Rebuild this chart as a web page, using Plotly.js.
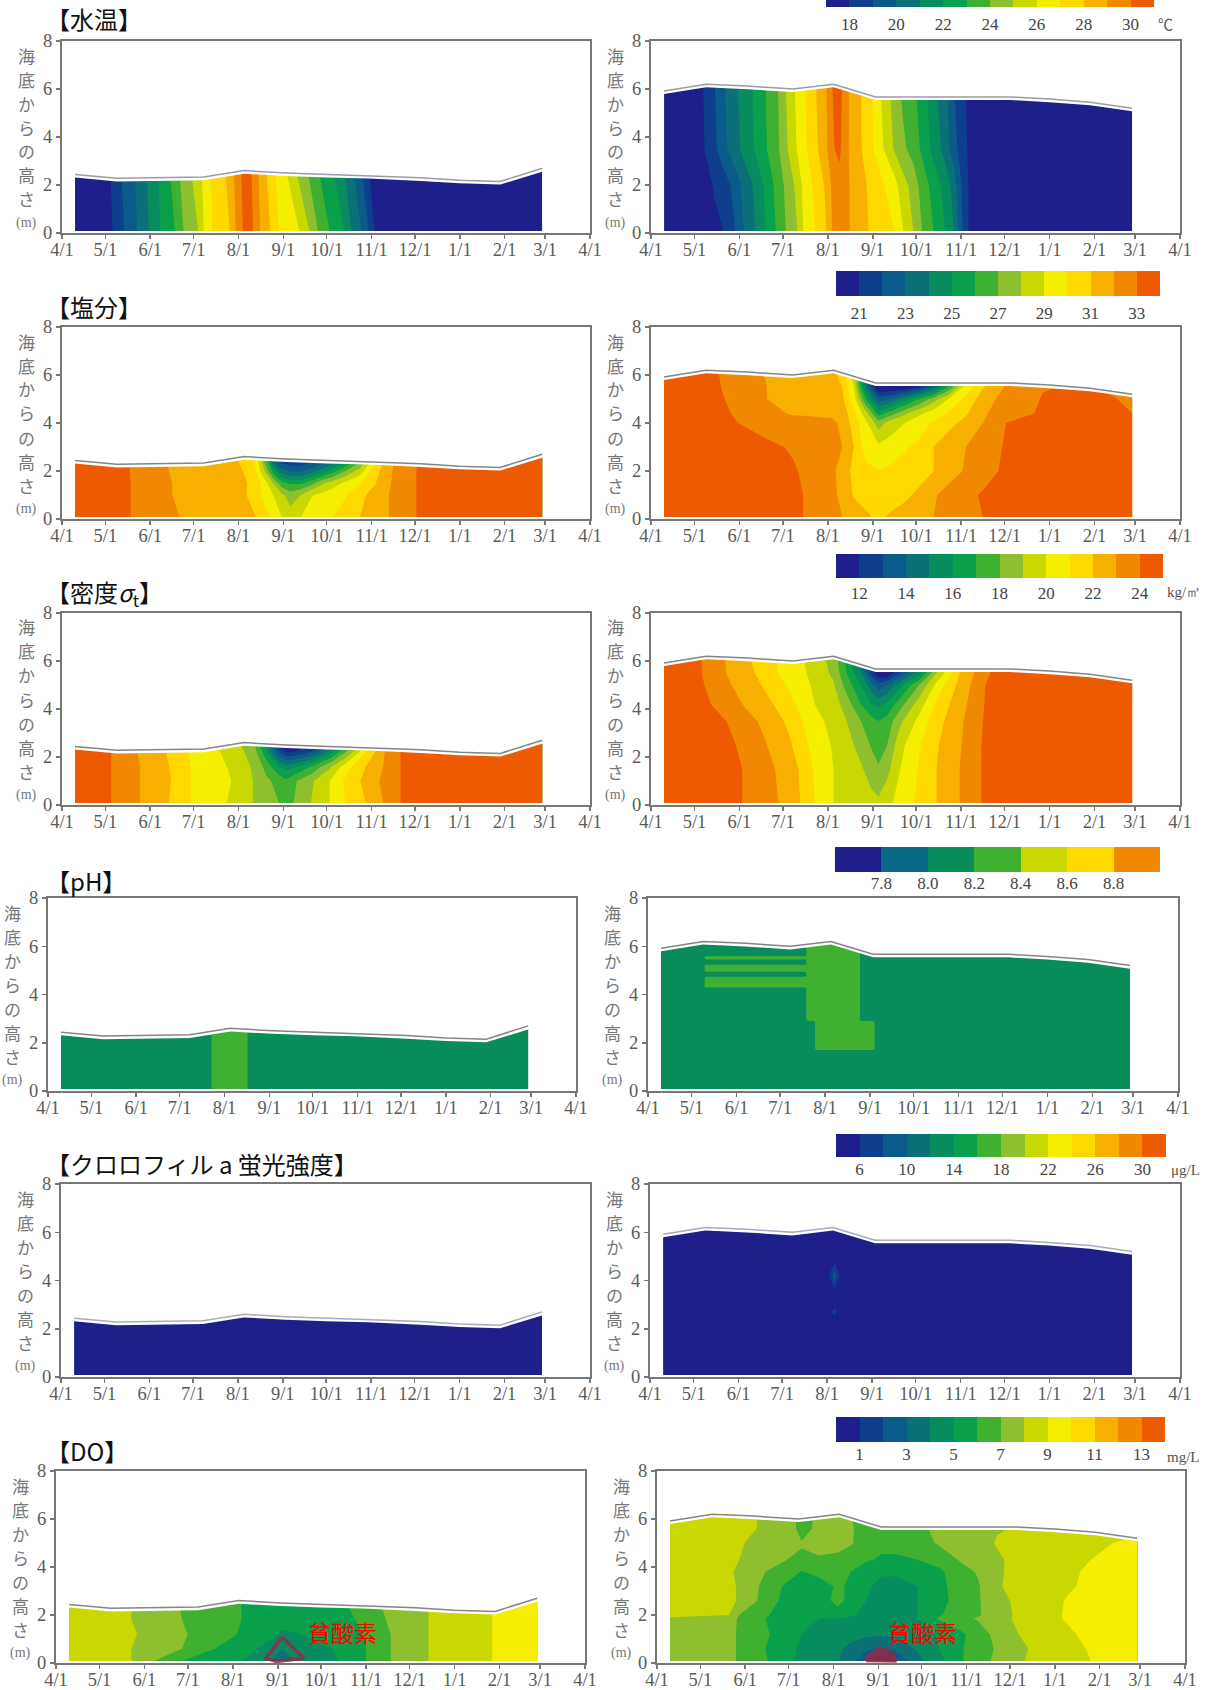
<!DOCTYPE html>
<html><head><meta charset="utf-8">
<script src="https://cdn.plot.ly/plotly-3.0.1.min.js"></script>
<style>html,body{margin:0;padding:0;background:#fff}</style>
</head><body><div id="chart" style="width:1221px;height:1690px"></div>
<script>
// ---------- shared ----------
const monthDays=[0,30,61,91,122,153,183,214,244,275,306,334,365];
const monthLabels=['4/1','5/1','6/1','7/1','8/1','9/1','10/1','11/1','12/1','1/1','2/1','3/1','4/1'];
const surfaceLeftX=[9,38,98,126,155,183,212,248,275,303,332];
const surfaceLeftY=[2.44,2.28,2.33,2.6,2.5,2.44,2.4,2.3,2.2,2.15,2.7];
const surfaceRightX=[9,38,67,98,126,155,183,212,248,275,303,332];
const surfaceRightY=[5.92,6.2,6.12,6.0,6.2,5.67,5.67,5.67,5.67,5.58,5.45,5.2];
const palette14=['#1f1f8c','#0f3f8c','#0a5a8a','#0b7078','#078c5f','#08a04a','#3fb030','#8ebf2f','#c8d800','#f5ee00','#ffd800','#f8b000','#f08800','#ee5a00'];
const palette7=['#1f1f8c','#0a6a85','#078c5a','#3fb030','#c8d800','#ffd800','#f08800'];
const yLabelChars=['海','底','か','ら','の','高','さ','(m)'];

// ---------- water temperature ----------
const tempTicks=[18,20,22,24,26,28,30];
const tempLx=[9,30,35,43,52,60,68,78,84,94,98,104,116,120,125,128,132,137,144,150,164,171,177,185,195,200,207,212,216,225,332];
const tempLy=[0.08,2.8];
const tempL0=[17,17.5,18,19,20,21,22,23,24,25,26,27,28,29,30,30.6,30,29,28,27,26,25,24,23,22,21,20,19,18,17,17];
const tempL1=[17,17.6,18.2,19.3,20.2,21.2,22.2,23.5,24.5,25.5,26.3,27.2,28.3,29.3,30.2,30.6,29.8,28.7,27.5,26.6,24.6,23.7,23,22.3,21,20.2,19,18,17.5,17,17];
const tempRx=[9,30,36,44,50,58,64,72,79,86,93,101,105,113,121,125,130,137,150,168,174,181,187,195,203,209,212,215,219,228,332];
const tempRy=[0.08,2,3.5,6.4];
const tempR0=[17,17.3,17.5,17.8,18,19,20,21,22,23,24,25,26,27,28,29,29.5,29,28,27,26,25,24,23,22,21,20,19,18,17,17];
const tempR1=[17,17.35,17.6,18.1,18.4,19.4,20.3,21.2,22.2,23.2,24.2,25.3,26.2,27.2,28.2,29.2,29.7,29,27.9,26.4,25.4,24.6,23.6,22.6,21.6,20.6,19.6,18.8,18,17,17];
const tempR2=[17,17.45,17.9,18.8,19.7,20.6,21.3,22.1,22.9,23.6,24.8,26.1,26.7,27.7,28.8,29.9,30.2,28.9,27.5,24.9,24.2,23.6,22.8,21.7,20.6,19.4,18.9,18.4,17.9,17.1,17];
const tempR3=[17,17.5,18,19,19.9,20.8,21.4,22.2,23,23.7,25,26.3,26.8,27.9,29,30,30.4,28.9,27.4,24.4,23.7,23.2,22.4,21.3,20.2,19,18.6,18.2,17.8,17.2,17];

// ---------- salinity ----------
const salTicks=[21,23,25,27,29,31,33];
const salLx=[9,45,50,74,85,125,134,140,146,152,158,165,172,180,187,196,206,216,226,235,245,332];
const salLy=[0.08,1,1.5,2,2.8];
const salL0=[33.8,33.2,32.8,32.2,31.9,31.3,31,30.4,29.8,29,28.5,29,29.5,29.8,30,30.5,31,31.5,32,32.5,33,33.8];
const salL1=[33.8,33.2,32.8,32.1,31.6,31.2,30.5,29.7,29,28.2,27.5,28,28.9,29.3,29.6,29.9,30.7,31.4,32,32.5,33,33.8];
const salL2=[33.8,33.2,32.8,32.1,31.6,31.2,30.6,29.5,28,26.3,25.8,25.8,26.6,27.8,28.5,29.2,29.9,30.9,31.9,32.5,33,33.8];
const salL3=[33.8,33.2,32.7,32,31.6,31,30,28,25.5,23.5,22.8,22.8,23.5,24.5,25.5,27,28.5,30.5,31.8,32.5,33,33.8];
const salL4=[33.8,33,32.6,31.9,31.6,30.9,29.5,26,21,20,20,20,20,20.5,21,22.5,25,28.5,31.5,32.5,33,33.8];
const salRx=[9,46,60,80,98,105,125,132,140,148,157,165,175,185,195,205,215,229,245,262,270,300,315,332];
const salRy=[0.08,1,2,3,4,4.4,5,5.5,6.4];
const salR0=[33.8,33.8,33.6,33.4,33.2,33,32.2,32,31.6,31.3,30.7,31.2,31.4,31.7,32,32.4,32.7,33,33.5,33.8,33.8,33.8,33.8,33.8];
const salR1=[33.8,33.8,33.6,33.4,33.2,33,32.2,31.8,30.9,30.4,30.2,30.3,30.8,31.2,31.9,32.3,32.7,33.1,33.6,33.8,33.8,33.8,33.8,33.8];
const salR2=[33.8,33.7,33.6,33.4,33.1,32.9,32.2,31.6,30.7,30.3,30.05,30.2,30.3,30.6,31,31.6,32,32.6,33.2,33.8,33.8,33.8,33.8,33.8];
const salR3=[33.8,33.7,33.5,33.2,32.9,32.7,32.3,32,31,29.6,29.2,29.4,29.9,30.2,31,31.5,31.9,32.5,33.1,33.6,33.8,33.8,33.8,33.6];
const salR4=[33.8,33.6,33,32.6,32.4,32.3,32.1,31.9,30.5,29.3,27.5,28.5,29,29.6,30.1,30.7,31.2,32,33,33.3,33.5,33.7,33.7,33.3];
const salR5=[33.8,33.4,32.8,32.3,31.9,31.9,31.9,31.7,30.2,28.5,25.5,26.5,27.8,28.8,29.5,30.1,30.7,31.8,32.7,32.95,33.1,33.6,33.6,33];
const salR6=[33.8,33.2,32.6,32,31.5,31.4,31.3,31.2,29.5,26,22.5,23,24.5,26,27.5,29,30,31.5,32.4,32.6,33.1,33.5,33.2,32.7];
const salR7=[33.8,33.1,32.5,32,31.4,31.3,31.2,31,29,24,19.8,19.8,20,21,23,26,29,30.9,32.1,32.5,32.9,33.2,32.8,32.4];
const salR8=[33.8,33,32.5,31.9,31.3,31.2,31,30.5,28,21,19.5,19.5,19.5,20,22,25,28,30.5,32,32.4,32.6,33,32.5,32];

// ---------- density sigma-t ----------
const denTicks=[12,14,16,18,20,22,24];
const denLx=[9,34,54,74,89,114,132,141,150,155,160,172,185,196,210,222,234,332];
const denLy=[0.08,1,1.6,2.2,2.8];
const denL0=[25,24,23,22,21,20,19,18.5,18,17.6,18,19,20,21,22,23,24,25];
const denL1=[25,24,23,22.1,21,20.2,19,18.2,17.7,17.2,17.8,18.8,20,21.2,22.3,23.2,24,25];
const denL2=[25,24,23,22,21,20,18.9,17.7,16,15.5,15.8,17,18.8,20.5,22,23,24,25];
const denL3=[25,24,22.9,21.9,20.9,19.8,18.6,16.4,13.2,12,12,13,15.5,18,21,22.9,24,25];
const denL4=[25,24,22.9,21.9,20.7,19.6,18.2,15,11,10.5,10.5,11,12.5,15.5,19,22.8,24,25];
const denRx=[9,35,52,63,76,88,95,103,113,126,135,145,152,157,163,172,185,197,213,228,240,332];
const denRy=[0.08,1.5,2.5,3.5,4.2,5,5.5,6.4];
const denR0=[25,25,24.8,24,23.5,23,22.7,22,21,20,19.6,19.4,19.3,19.2,19.7,20.4,21.2,22,23,24,25,25];
const denR1=[25,25,24.6,24,23.4,22.9,22.5,21.9,20.9,20,19.5,19.1,18.6,18.1,18.7,20,21.1,22,23,24,25,25];
const denR2=[25,25,24.3,23.8,23.2,22.6,22.2,21.5,20.6,19.9,19.3,18.7,17.9,17.6,18,19.7,20.9,21.9,22.9,24,25,25];
const denR3=[25,24.7,24,23.4,22.9,22.2,21.8,21.1,20.3,19.7,19,18,17.4,17,17.4,18.8,20.3,21.6,22.8,23.9,25,25];
const denR4=[25,24.3,23.5,23,22.5,21.8,21.3,20.8,20,19.5,18.5,17,16,15.8,16.2,17.6,19.5,21.2,22.6,23.8,25,25];
const denR5=[25,24.1,23.2,22.6,22,21.3,20.9,20.5,19.8,19.1,17.6,16,14.5,13.3,14,15.7,18,20.3,22.3,23.7,25,25];
const denR6=[25,24,23,22.4,21.8,21,20.7,20.3,19.6,18.8,17,15,12.5,11,11,13,15.5,19,22,23.5,24.5,25];
const denR7=[25,24,22.9,22.2,21.6,20.8,20.5,20.1,19.5,18.5,16.5,14,11,10,10,11,13,17,21.5,23.3,24.2,25];

// ---------- pH ----------
const phTicks=[7.8,8.0,8.2,8.4,8.6,8.8];
const phTickText=['7.8','8.0','8.2','8.4','8.6','8.8'];
const phLx=[9,112,114,137,139,332];
const phLy=[0.08,2.8];
const phL0=[8.1,8.1,8.3,8.3,8.1,8.1];
const phRx=[9,38,40,108,110,114,116,145,147,155,157,332];
const phRy=[0.08,1.65,1.75,2.85,2.95,4.25,4.32,4.7,4.78,4.9,4.98,5.2,5.26,5.42,5.48,5.55,5.62,6.4];
const phRbase=[8.1,8.1,8.1,8.1,8.1,8.1,8.1,8.1,8.1,8.1,8.1,8.1];
const phRlow=[8.1,8.1,8.1,8.1,8.1,8.1,8.3,8.3,8.3,8.3,8.1,8.1];
const phRmid=[8.1,8.1,8.1,8.1,8.3,8.3,8.3,8.3,8.1,8.1,8.1,8.1];
const phRstripe=[8.1,8.1,8.3,8.3,8.3,8.3,8.3,8.3,8.1,8.1,8.1,8.1];

// ---------- chlorophyll a ----------
const chlTicks=[6,10,14,18,22,26,30];
const chlLx=[9,332];
const chlLy=[0.08,2.8];
const chlL0=[5,5];
const chlRx=[9,122,127,132,332];
const chlRy=[0.08,2.3,2.7,3.1,3.5,4.2,4.9,6.4];
const chlRflat=[5,5,5,5,5];
const chlRspotA=[5,5,6.6,5,5];
const chlRspotB=[5,5,9,5,5];

// ---------- dissolved oxygen ----------
const doTicks=[1,3,5,7,9,11,13];
const doLx=[9,52,68,87,110,128,146,156,169,195,214,231,257,301,332];
const doLy=[0.08,0.6,1.2,1.8,2.8];
const doL0=[8.6,8,7,6,5.5,5,4.1,3.6,4.2,5,6,7,8,9,9.6];
const doL1=[8.6,8,7.8,7,6,5.5,4.7,4,4.5,5.1,6,7,8,9,9.6];
const doL2=[8.6,8.1,7.7,7.1,6.5,5.9,5.3,4.9,5,5.4,6.1,7,8,9,9.6];
const doL3=[8.6,8,7.6,7,6.5,6,5.5,5.2,5.4,5.7,6.2,7.2,8,9,9.6];
const doL4=[8.7,8,7.5,6.9,6.5,6,5.5,5.3,5.5,5.9,6.6,7.4,8,9,9.7];
const doRx=[9,50,57,75,90,100,112,125,134,145,155,165,180,195,210,222,235,250,270,285,300,315,332];
const doRy=[0.08,0.6,1.2,1.85,2.0,2.6,3.2,3.8,4.3,5,5.6,6.4];
const doR0=[7.6,7.2,6.9,6.1,5.2,4.8,4.5,4.05,3.4,2,1.4,2,3.7,4.7,5.9,6.6,7.2,7.9,8.4,8.7,9,9.4,9.7];
const doR1=[7.7,7.2,6.9,6,5.2,4.9,4.6,4.2,3.7,3.2,2.9,3.3,4.1,5,5.9,6.5,7.1,7.8,8.4,8.7,9.1,9.4,9.7];
const doR2=[7.7,7.2,6.9,6.1,5.6,5,4.8,4.6,4.4,4.2,4.1,4.2,4.5,5.1,5.8,6.5,7.3,8,8.6,8.9,9.2,9.5,9.7];
const doR3=[7.8,7.3,6.9,6,5.5,5.1,5,5,4.9,4.7,4.6,4.6,4.9,6.1,6.7,7.1,7.6,8.2,8.8,9.1,9.4,9.6,9.7];
const doR4=[8.4,8,7,6.1,5.6,5.2,5.4,5.6,5.1,4.8,4.7,4.7,5,5.9,6.5,6.9,7.5,8.2,8.8,9.1,9.4,9.6,9.7];
const doR5=[8.5,8.2,7.9,6.6,5.6,5,5.5,6.3,5.7,5,4.7,4.7,5,5.6,6.5,6.9,7.7,8.2,8.7,9.1,9.4,9.6,9.7];
const doR6=[8.5,8.2,7.9,6.7,5.8,5,5.4,6.2,5.8,5.1,4.8,4.8,5,5.7,6.5,6.9,7.9,8.3,8.6,8.9,9.2,9.6,9.7];
const doR7=[8.5,8.2,7.7,7,6.5,5.95,6.4,6.4,6,5.4,5.1,5.1,5.3,5.8,6.6,7.1,7.9,8.2,8.5,8.8,9.2,9.4,9.6];
const doR8=[8.5,8.1,8,7.4,7,6.9,6.9,6.7,6.5,6.1,5.9,5.9,6,6.4,7.1,7.6,7.9,8.2,8.4,8.7,9,9.3,9.5];
const doR9=[8.5,8.3,8.1,7.6,7.3,7.05,7.3,7.4,7.1,6.5,6.2,6.2,6.6,7.1,7.4,7.7,8.05,8.3,8.4,8.5,8.7,9,9.2];
const doR10=[8.5,8.4,8.2,7.9,7.5,6.7,7.2,7.5,7.1,6.6,6.3,6.2,6.7,7.3,7.5,7.7,7.95,8.05,8.2,8.4,8.6,8.7,8.8];
const doR11=[8.5,8.4,8.2,7.9,7.5,6.6,7.2,7.5,7,6.5,6.2,6.2,6.7,7.3,7.5,7.7,7.95,8.05,8.2,8.4,8.5,8.7,8.8];
const hypoxiaLx=[156,145,152,171,156];
const hypoxiaLy=[1.08,0.2,0.06,0.2,1.08];
const hypoxiaRx=[153,144,145,165,165,160,153];
const hypoxiaRy=[0.67,0.2,0.07,0.05,0.28,0.55,0.67];

// ---------- titles ----------
const rowTitles=['【水温】','【塩分】','【密度<i>σ</i><sub>t</sub>】','【pH】','【クロロフィル a 蛍光強度】','【DO】'];
const unitLabels=['℃','','kg/㎥','','μg/L','mg/L'];

// ---------- layout geometry (pixels) ----------
const W=1221,H=1690;
const rows=[
 {L:[62,590],R:[651,1180],Y:[41,233],bar:[826,1154,0,7,25],title:[44,19],unit:[1156,24],cb:{start:18,end:30,size:1,ticks:tempTicks,pal:palette14}},
 {L:[62,590],R:[651,1180],Y:[327,519],bar:[836,1160,271,296,314],title:[44,306],cb:{start:21,end:33,size:1,ticks:salTicks,pal:palette14}},
 {L:[62,590],R:[651,1180],Y:[613,805],bar:[836,1163,554,578,594],title:[44,593],unit:[1165,592],cb:{start:12,end:24,size:1,ticks:denTicks,pal:palette14}},
 {L:[48,576],R:[648,1178],Y:[898,1091],bar:[835,1160,847,872,884],title:[44,880],cb:{start:7.8,end:8.8,size:0.2,ticks:phTicks,text:phTickText,pal:palette7}},
 {L:[61,590],R:[650,1180],Y:[1184,1377],bar:[836,1166,1134,1157,1170],title:[44,1163],unit:[1169,1170],cb:{start:6,end:30,size:2,ticks:chlTicks,pal:palette14}},
 {L:[56,585],R:[657,1185],Y:[1471,1663],bar:[836,1165,1417,1442,1455],title:[44,1450],unit:[1165,1457],cb:{start:1,end:13,size:1,ticks:doTicks,pal:palette14}}
];
const fields=[
 {lx:tempLx,ly:tempLy,lz:[tempL0,tempL1],rx:tempRx,ry:tempRy,rz:[tempR0,tempR1,tempR2,tempR3]},
 {lx:salLx,ly:salLy,lz:[salL0,salL1,salL2,salL3,salL4],rx:salRx,ry:salRy,rz:[salR0,salR1,salR2,salR3,salR4,salR5,salR6,salR7,salR8]},
 {lx:denLx,ly:denLy,lz:[denL0,denL1,denL2,denL3,denL4],rx:denRx,ry:denRy,rz:[denR0,denR1,denR2,denR3,denR4,denR5,denR6,denR7]},
 {lx:phLx,ly:phLy,lz:[phL0,phL0],rx:phRx,ry:phRy,rz:[phRbase,phRbase,phRlow,phRlow,phRmid,phRmid,phRstripe,phRstripe,phRmid,phRmid,phRstripe,phRstripe,phRmid,phRmid,phRstripe,phRstripe,phRmid,phRmid]},
 {lx:chlLx,ly:chlLy,lz:[chlL0,chlL0],rx:chlRx,ry:chlRy,rz:[chlRflat,chlRflat,chlRspotA,chlRflat,chlRflat,chlRspotB,chlRflat,chlRflat]},
 {lx:doLx,ly:doLy,lz:[doL0,doL1,doL2,doL3,doL4],rx:doRx,ry:doRy,rz:[doR0,doR1,doR2,doR3,doR4,doR5,doR6,doR7,doR8,doR9,doR10,doR11]}
];

const serif='"Liberation Serif",serif', cjk='"Noto Sans CJK JP",sans-serif';
const tickColor='#5a5a5a', axisColor='#777';
function stepScale(p){const s=[];p.forEach((c,i)=>{s.push([i/p.length,c]);s.push([(i+1)/p.length,c]);});return s;}

const traces=[],annotations=[],layout={width:W,height:H,margin:{l:0,r:0,t:0,b:0},paper_bgcolor:'#fff',plot_bgcolor:'#fff',showlegend:false,hovermode:false};
let axisN=0;
function nextAxes(){
  axisN++;
  return {xa:axisN===1?'x':'x'+axisN,ya:axisN===1?'y':'y'+axisN,xk:axisN===1?'xaxis':'xaxis'+axisN,yk:axisN===1?'yaxis':'yaxis'+axisN};
}
function addPanel(r,side,rowIdx){
  const {xa,ya,xk,yk}=nextAxes();
  const rect=side==='L'?r.L:r.R;
  const common={showgrid:false,zeroline:false,showline:true,mirror:true,linecolor:axisColor,linewidth:2,ticks:'outside',ticklen:4,tickwidth:1.5,tickcolor:axisColor,tickfont:{family:serif,size:18.5,color:tickColor}};
  layout[xk]=Object.assign({},common,{domain:[rect[0]/W,rect[1]/W],anchor:ya,range:[0,365],tickmode:'array',tickvals:monthDays,ticktext:monthLabels,tickangle:0,ticklabelstandoff:-5});
  layout[yk]=Object.assign({},common,{domain:[1-r.Y[1]/H,1-r.Y[0]/H],anchor:xa,range:[0,8],tickmode:'array',tickvals:[0,2,4,6,8],ticktext:['0','2','4','6','8']});
  const f=fields[rowIdx], cb=r.cb;
  traces.push({type:'contour',xaxis:xa,yaxis:ya,x:side==='L'?f.lx:f.rx,y:side==='L'?f.ly:f.ry,z:side==='L'?f.lz:f.rz,
    autocontour:false,contours:{coloring:'fill',showlines:false,start:cb.start,end:cb.end,size:cb.size},line:{width:0,smoothing:0},
    colorscale:stepScale(cb.pal),showscale:false,hoverinfo:'skip'});
  const sx=side==='L'?surfaceLeftX:surfaceRightX, sy=side==='L'?surfaceLeftY:surfaceRightY;
  const mx=[sx[0]-1].concat(sx,[sx[sx.length-1]+1,sx[sx.length-1]+1,sx[0]-1]);
  const my=[sy[0]-0.13].concat(sy.map(v=>v-0.13),[sy[sy.length-1]-0.13,7,7]);
  traces.push({type:'scatter',mode:'lines',xaxis:xa,yaxis:ya,x:mx,y:my,fill:'toself',fillcolor:'#fff',line:{width:0},hoverinfo:'skip'});
  traces.push({type:'scatter',mode:'lines',xaxis:xa,yaxis:ya,x:sx,y:sy,line:{color:rowIdx===4?'#a9a9c4':rowIdx===0?'#9a9aaf':'#858585',width:1.5},hoverinfo:'skip'});
  yLabelChars.forEach((ch,i)=>{
    annotations.push({xref:'paper',yref:'paper',x:(rect[0]-36)/W,y:1-(r.Y[0]+14+i*24)/H,text:ch,showarrow:false,xanchor:'center',yanchor:'middle',
      font:{family:i===7?serif:cjk,size:i===7?14:17,color:'#777'}});
  });
}
function addBar(r){
  const {xa,ya,xk,yk}=nextAxes();
  const b=r.bar, cb=r.cb, lo=cb.start-cb.size, hi=cb.end+cb.size;
  const centers=cb.pal.map((c,i)=>lo+(i+0.5)*cb.size);
  traces.push({type:'heatmap',xaxis:xa,yaxis:ya,x:centers,y:[0],z:[centers],zmin:lo,zmax:hi,colorscale:stepScale(cb.pal),showscale:false,hoverinfo:'skip'});
  layout[xk]={domain:[b[0]/W,b[1]/W],anchor:ya,range:[lo,hi],showgrid:false,zeroline:false,showline:false,ticks:'',tickmode:'array',tickvals:cb.ticks,ticktext:cb.text||cb.ticks.map(String),tickangle:0,ticklabelstandoff:b[4]-b[3]-13,tickfont:{family:serif,size:17,color:'#444'}};
  layout[yk]={domain:[1-b[3]/H,1-b[2]/H],anchor:xa,range:[-0.5,0.5],visible:false};
}
rows.forEach((r,i)=>{
  addPanel(r,'L',i);addPanel(r,'R',i);
  annotations.push({xref:'paper',yref:'paper',x:r.title[0]/W,y:1-r.title[1]/H,text:rowTitles[i],showarrow:false,xanchor:'left',yanchor:'middle',font:{family:cjk,size:24,color:'#111'}});
  if(r.unit&&unitLabels[i])annotations.push({xref:'paper',yref:'paper',x:r.unit[0]/W,y:1-r.unit[1]/H,text:unitLabels[i],showarrow:false,xanchor:'left',yanchor:'middle',font:{family:i===0?cjk:serif,size:15,color:'#555'}});
});
// hypoxia marks on the DO panels (panel axes are numbered two per row)
traces.push({type:'scatter',mode:'lines',xaxis:'x11',yaxis:'y11',x:hypoxiaLx,y:hypoxiaLy,line:{color:'rgba(150,40,75,0.85)',width:3.5},hoverinfo:'skip'});
traces.push({type:'scatter',mode:'lines',xaxis:'x12',yaxis:'y12',x:hypoxiaRx,y:hypoxiaRy,fill:'toself',fillcolor:'rgba(140,45,70,0.85)',line:{color:'rgba(150,40,75,0.85)',width:2},hoverinfo:'skip'});
rows.forEach(addBar);
[[342,1632],[922,1632]].forEach(p=>annotations.push({xref:'paper',yref:'paper',x:p[0]/W,y:1-p[1]/H,text:'貧酸素',showarrow:false,xanchor:'center',yanchor:'middle',font:{family:cjk,size:23,color:'#ff0000'}}));
layout.annotations=annotations;
Plotly.newPlot('chart',traces,layout,{staticPlot:true,displayModeBar:false});
</script></body></html>
